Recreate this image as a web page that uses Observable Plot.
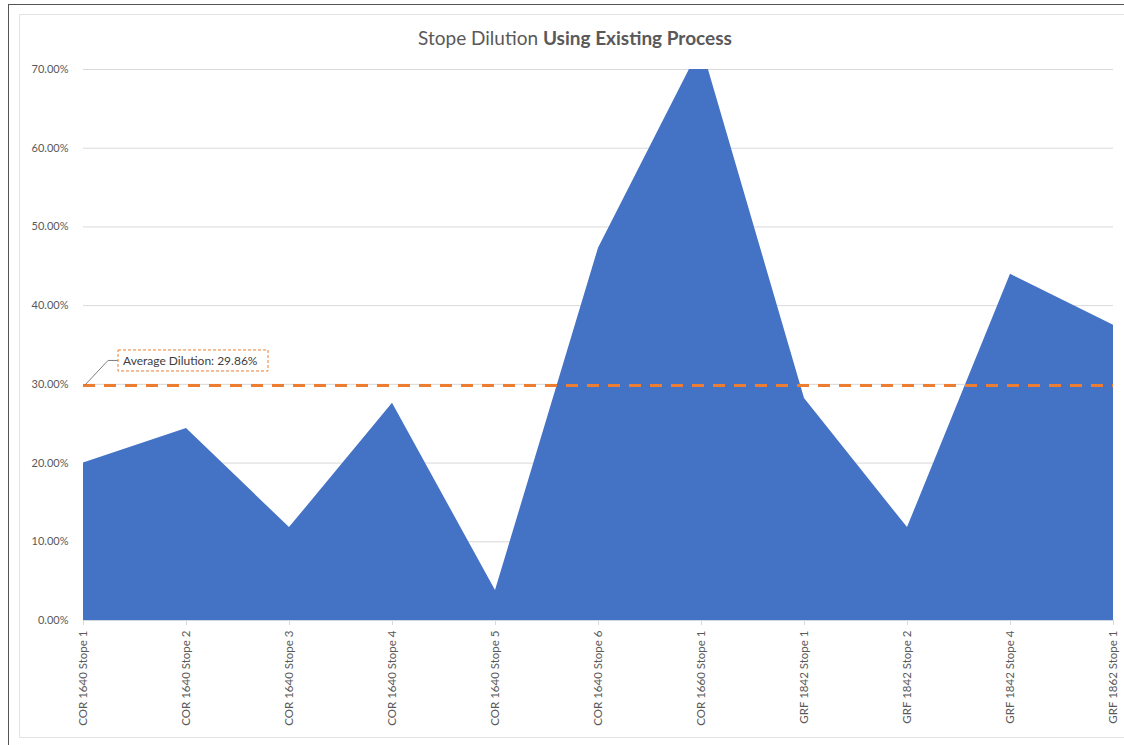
<!DOCTYPE html>
<html>
<head>
<meta charset="utf-8">
<script src="https://cdn.jsdelivr.net/npm/d3@7"></script>
<script src="https://cdn.jsdelivr.net/npm/@observablehq/plot@0.6"></script>
<style>
  html, body { margin: 0; padding: 0; background: #fff; }
  #wrap { position: relative; width: 1124px; height: 745px; overflow: hidden; font-family: Lato, "Open Sans", sans-serif; }
  #outer { position: absolute; left: 8px; top: 4px; width: 1130px; height: 760px; border-left: 1.5px solid #555; border-top: 1.5px solid #555; }
  #inner { position: absolute; left: 19px; top: 14px; width: 1120px; height: 722px; border: 1px solid #e3e3e3; }
  #title { position: absolute; left: 0; width: 1150px; top: 26px; text-align: center; font-size: 19px; color: #595959; }
  #title b { font-weight: 700; }
  #chart { position: absolute; left: 0; top: 0; }
</style>
</head>
<body>
<div id="wrap">
  <div id="outer"></div>
  <div id="inner"></div>
  <div id="chart"></div>
  <div id="title">Stope Dilution <b>Using Existing Process</b></div>
</div>
<script>
const categories = [
  "COR 1640 Stope 1", "COR 1640 Stope 2", "COR 1640 Stope 3", "COR 1640 Stope 4",
  "COR 1640 Stope 5", "COR 1640 Stope 6", "COR 1660 Stope 1", "GRF 1842 Stope 1",
  "GRF 1842 Stope 2", "GRF 1842 Stope 4", "GRF 1862 Stope 1"
];
const dilution = [0.200, 0.244, 0.118, 0.276, 0.038, 0.473, 0.730, 0.282, 0.118, 0.440, 0.375];
const averageDilution = 0.2986;
const averageLabel = "Average Dilution: 29.86%";
const yTicks = [0, 0.1, 0.2, 0.3, 0.4, 0.5, 0.6, 0.7];

const data = categories.map((c, i) => ({ i, c, v: dilution[i] }));

const annotation = (index, scales, values, dims, context) => {
  const ns = "http://www.w3.org/2000/svg";
  const g = document.createElementNS(ns, "g");
  const x0 = scales.x(0), y0 = scales.y(averageDilution);
  const bx = x0 + 35, by = y0 - 35, bw = 150, bh = 21;
  const path = document.createElementNS(ns, "path");
  path.setAttribute("d", `M${x0 + 2},${y0} L${x0 + 25},${by + bh / 2} L${bx},${by + bh / 2}`);
  path.setAttribute("fill", "none");
  path.setAttribute("stroke", "#7f7f7f");
  path.setAttribute("stroke-width", "1");
  g.appendChild(path);
  const rect = document.createElementNS(ns, "rect");
  rect.setAttribute("x", bx); rect.setAttribute("y", by);
  rect.setAttribute("width", bw); rect.setAttribute("height", bh);
  rect.setAttribute("fill", "white");
  rect.setAttribute("stroke", "#ed7d31");
  rect.setAttribute("stroke-width", "1");
  rect.setAttribute("stroke-dasharray", "3,2");
  g.appendChild(rect);
  const t = document.createElementNS(ns, "text");
  t.setAttribute("x", bx + 5); t.setAttribute("y", by + bh / 2);
  t.setAttribute("dy", "0.35em");
  t.setAttribute("text-anchor", "start");
  t.setAttribute("font-size", "12");
  t.setAttribute("fill", "#404040");
  t.textContent = averageLabel;
  g.appendChild(t);
  return g;
};

const chart = Plot.plot({
  width: 1124,
  height: 745,
  marginLeft: 83,
  marginRight: 11,
  marginTop: 69,
  marginBottom: 125,
  style: { fontFamily: "Lato, 'Open Sans', sans-serif", background: "transparent", overflow: "visible" },
  x: { type: "linear", domain: [0, categories.length - 1] },
  y: { domain: [0, 0.7] },
  marks: [
    Plot.gridY(yTicks, { stroke: "#d9d9d9", strokeOpacity: 1, strokeWidth: 1 }),
    Plot.areaY(data, { x: "i", y: "v", fill: "#4472c4", clip: true }),
    Plot.ruleY([0], { stroke: "#d0d6e2", strokeWidth: 1.2 }),
    Plot.ruleY([averageDilution], { x1: 0, x2: categories.length - 1, stroke: "#ed7d31", strokeWidth: 3, strokeDasharray: "12,9" }),
    Plot.axisY({ ticks: yTicks, tickFormat: d3.format(".2%"), tickSize: 0, tickPadding: 15, fontSize: 11, color: "#595959", label: null }),
    Plot.axisX({ ticks: d3.range(categories.length), tickFormat: i => categories[i], tickRotate: -90, tickSize: 5, tickPadding: 5, fontSize: 11.5, color: "#595959", stroke: "#d9d9d9", label: null }),
    annotation
  ]
});
document.getElementById("chart").appendChild(chart);
</script>
</body>
</html>
